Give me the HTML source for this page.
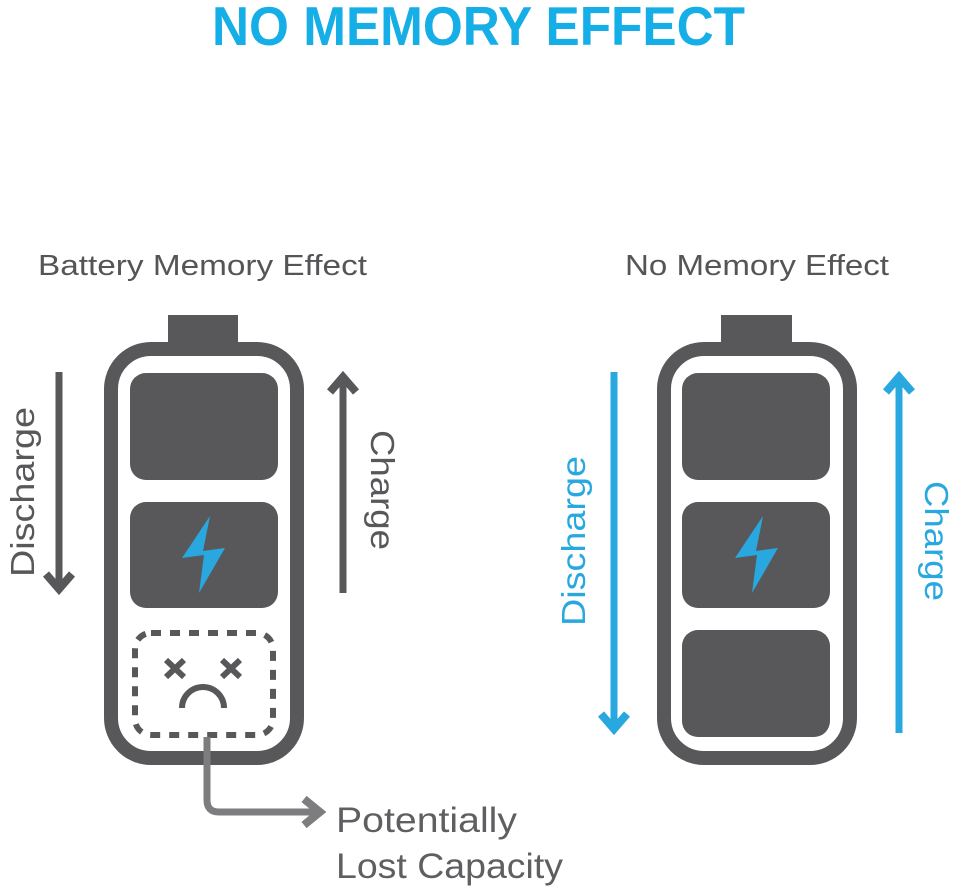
<!DOCTYPE html>
<html><head><meta charset="utf-8"><style>html,body{margin:0;padding:0;background:#fff}svg{display:block}</style></head>
<body>
<svg width="960" height="891" viewBox="0 0 960 891" xmlns="http://www.w3.org/2000/svg" font-family="Liberation Sans, sans-serif">
<text x="212" y="45" font-size="55" font-weight="bold" fill="#15aee6" textLength="533" lengthAdjust="spacingAndGlyphs">NO MEMORY EFFECT</text>
<text x="38" y="275" font-size="29" fill="#555558" textLength="329" lengthAdjust="spacingAndGlyphs">Battery Memory Effect</text>
<text x="625" y="275" font-size="29" fill="#555558" textLength="264" lengthAdjust="spacingAndGlyphs">No Memory Effect</text>

<g fill="#58585b" stroke="none">
<rect x="168" y="315" width="70" height="32"/>
<rect x="111" y="349" width="186" height="409" rx="40" fill="none" stroke="#58585b" stroke-width="14"/>
<rect x="130" y="373" width="148" height="107" rx="16"/>
<rect x="130" y="502" width="148" height="106" rx="16"/>
<rect x="721" y="315" width="71" height="32"/>
<rect x="664" y="349" width="186" height="409" rx="40" fill="none" stroke="#58585b" stroke-width="14"/>
<rect x="682" y="373" width="148" height="107" rx="16"/>
<rect x="682" y="502" width="148" height="106" rx="16"/>
<rect x="682" y="630" width="148" height="107" rx="16"/>
</g>
<polygon points="210,516 182,558 204,555 199,593 225,548 203,551" fill="#29a8e0"/>
<polygon points="763,516 735,558 757,555 752,593 778,548 756,551" fill="#29a8e0"/>

<rect x="135" y="633" width="138" height="102" rx="16" fill="none" stroke="#58585b" stroke-width="6" stroke-dasharray="10,9"/>
<g stroke="#58585b" stroke-width="6">
<line x1="166" y1="660" x2="184" y2="677"/><line x1="184" y1="660" x2="166" y2="677"/>
<line x1="222" y1="660" x2="240" y2="677"/><line x1="240" y1="660" x2="222" y2="677"/>
</g>
<path d="M182,708 A21,21 0 0 1 224,708" fill="none" stroke="#58585b" stroke-width="6"/>

<path d="M207,737 V800 Q207,812 219,812 H318" fill="none" stroke="#7d7d80" stroke-width="7"/>
<polyline points="304,799 320,812 304,825" fill="none" stroke="#7d7d80" stroke-width="8"/>
<text x="336" y="832" font-size="35" fill="#5f5f62" textLength="181" lengthAdjust="spacingAndGlyphs">Potentially</text>
<text x="336" y="878" font-size="35" fill="#5f5f62" textLength="227" lengthAdjust="spacingAndGlyphs">Lost Capacity</text>

<g stroke="#58585b" stroke-width="7" fill="none">
<line x1="59" y1="372" x2="59" y2="588"/>
<polyline points="46,574 59,589 72,574" stroke-width="8"/>
<line x1="343" y1="378" x2="343" y2="593"/>
<polyline points="330,392 343,377 356,392" stroke-width="8"/>
</g>
<text transform="translate(34,492) rotate(-90)" text-anchor="middle" font-size="33" fill="#58585b" textLength="170" lengthAdjust="spacingAndGlyphs">Discharge</text>
<text transform="translate(371,490) rotate(90)" text-anchor="middle" font-size="33" fill="#58585b" textLength="120" lengthAdjust="spacingAndGlyphs">Charge</text>

<g stroke="#29a8e0" stroke-width="7" fill="none">
<line x1="614" y1="372" x2="614" y2="728"/>
<polyline points="601,714 614,729 627,714" stroke-width="8"/>
<line x1="899" y1="378" x2="899" y2="733"/>
<polyline points="886,392 899,377 912,392" stroke-width="8"/>
</g>
<text transform="translate(585,541) rotate(-90)" text-anchor="middle" font-size="33" fill="#29a8e0" textLength="170" lengthAdjust="spacingAndGlyphs">Discharge</text>
<text transform="translate(925,541) rotate(90)" text-anchor="middle" font-size="33" fill="#29a8e0" textLength="120" lengthAdjust="spacingAndGlyphs">Charge</text>
</svg>
</body></html>
